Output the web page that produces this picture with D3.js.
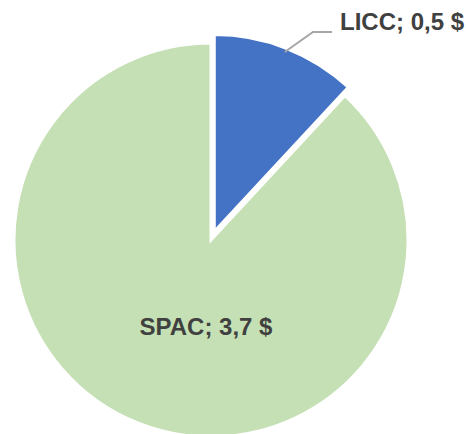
<!DOCTYPE html>
<html>
<head>
<meta charset="utf-8">
<script src="https://cdn.jsdelivr.net/npm/d3@7"></script>
<style>
  body { margin: 0; background: #fff; }
  svg { display: block; }
</style>
</head>
<body>
<div id="chart"></div>
<script>
// Data
var categories = ["LICC", "SPAC"];
var values = [0.5, 3.7];
var labels = ["LICC; 0,5 $", "SPAC; 3,7 $"];
var colors = ["#4472c4", "#c5e0b4"];

var svgWidth = 466;
var svgHeight = 434;
var cx = 211, cy = 240;
var radius = 197;
var explode = 9;

var svg = d3.select("#chart")
    .append("svg")
    .attr("width", svgWidth)
    .attr("height", svgHeight);

var pieGroup = svg.append("g")
    .attr("transform", `translate(${cx}, ${cy})`);

var pie = d3.pie().sort(null).value(d => d);
var arcs = pie(values);

var arc = d3.arc().innerRadius(0).outerRadius(radius);

// slices, first one pulled out a bit
pieGroup.selectAll("path")
    .data(arcs)
    .enter()
    .append("path")
    .attr("d", arc)
    .attr("fill", (d, i) => colors[i])
    .attr("stroke", "#fff")
    .attr("stroke-width", 3)
    .attr("stroke-linejoin", "miter")
    .attr("transform", function(d, i) {
        if (i !== 0) return null;
        var a = (d.startAngle + d.endAngle) / 2;
        return `translate(${Math.sin(a) * explode}, ${-Math.cos(a) * explode})`;
    });

// leader line for LICC
var licc = arcs[0];
var aLine = licc.startAngle + (licc.endAngle - licc.startAngle) * 0.5;
var mid = (licc.startAngle + licc.endAngle) / 2;
var ox = Math.sin(mid) * explode, oy = -Math.cos(mid) * explode;
var p0 = [ox + Math.sin(aLine) * (radius - 4), oy - Math.cos(aLine) * (radius - 4)];
pieGroup.append("path")
    .attr("d", d3.line()([p0, [102, -208], [121, -208]]))
    .attr("fill", "none")
    .attr("stroke", "#a6a6a6")
    .attr("stroke-width", 2);

pieGroup.append("text")
    .attr("x", 129)
    .attr("y", -210)
    .attr("fill", "#404040")
    .style("font-family", "'Liberation Sans', Arial, sans-serif")
    .style("font-weight", "bold")
    .style("font-size", "24px")
    .text(labels[0]);

pieGroup.append("text")
    .attr("x", -5)
    .attr("y", 95)
    .attr("text-anchor", "middle")
    .attr("fill", "#404040")
    .style("font-family", "'Liberation Sans', Arial, sans-serif")
    .style("font-weight", "bold")
    .style("font-size", "24px")
    .text(labels[1]);
</script>
</body>
</html>
